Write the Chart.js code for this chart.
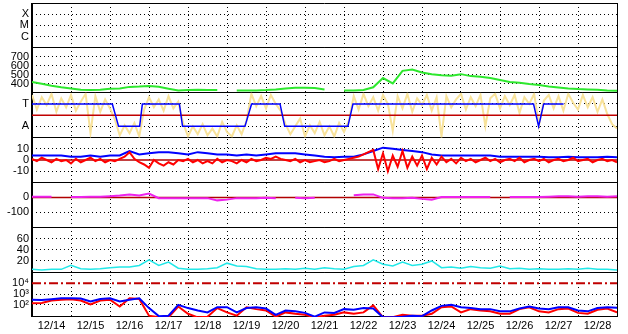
<!DOCTYPE html>
<html>
<head>
<meta charset="utf-8">
<script src="https://cdn.jsdelivr.net/npm/chart.js@4.4.1/dist/chart.umd.min.js"></script>
<style>
  html, body { margin: 0; padding: 0; background: #fff; }
  canvas { display: block; }
</style>
</head>
<body>
<canvas id="stackPlot" width="628" height="334"></canvas>
<script>
// x is in days since 12/14 00:00
const dayLabels = ['12/14', '12/15', '12/16', '12/17', '12/18', '12/19', '12/20', '12/21',
                   '12/22', '12/23', '12/24', '12/25', '12/26', '12/27', '12/28'];
const hours6 = Array.from({ length: 61 }, (_, i) => i / 4);
const hours3 = Array.from({ length: 121 }, (_, i) => i / 8);

// solar wind speed, every 6 h
const speed = [420, 400, 378, 360, 348, 332, 330, 332, 345, 346, 365, 368, 374, 366, 345, 325,
               330, 333, 330, 330, null, 325, 325, 326, 330, 337, 348, 355, 355, 352, 337, null,
               325, 325, 330, 360, 463, 403, 544, 559, 526, 507, 496, 489, 507, 485, 478, 463,
               441, 419, 411, 396, 385, 370, 359, 348, 341, 337, 333, 326, 322];

// IMF sector (T = +1, A = -1)
const sectorTimes = [0, 2.06, 2.22, 2.76, 2.83, 3.78, 3.86, 5.46, 5.63, 6.36, 6.48, 8.10, 8.23, 12.86, 12.99, 13.12, 13.63];
const sectorSide = [1, 1, -1, -1, 1, 1, -1, -1, 1, 1, -1, -1, 1, 1, -1, 1, 1];

// IMF angle, every 3 h
const imfAngle = [1.8, 0.5, 1.6, 0.9, 1.9, 0.3, 1.5, 0.7, 1.8, 0.4, 1.2, 1.9, -1.6, 1.7, 0.3, 1.4, 0.6,
                  -0.4, -1.8, -0.9, -1.6, -0.7, -1.9,
                  0.5, 1.6, 0.7, 1.4, 0.4, 1.7, 0.6, 1.2,
                  -0.7, -1.9, -1.0, -1.7, -0.8, -1.8, -1.2, -1.9, -0.6, -1.5, -1.9, -0.9, -1.7, -0.5,
                  1.9, 0.8, 1.7, 0.6, 1.8, 1.0, 0.4,
                  -0.8, -1.7, -1.0, -0.3, -1.9, -0.9, -1.6, -0.6, -1.8, -1.0, -1.9, -0.7, -1.5, -0.5,
                  1.7, 0.5, 1.9, 0.8, 1.6, 0.4, 1.8, 1.0, -1.4, 1.7, 0.6, 1.9, 0.3, 1.5, 0.9, 1.8,
                  0.4, 1.6, -1.9, 1.7, 0.7, 1.4, 1.9, 0.5, 1.6, 0.8, 1.8, -1.0, 1.5, 1.9, 0.6, 1.7,
                  0.9, 1.8, 0.2, 1.6, 1.0, 1.9, -0.9, 1.3, 1.8, 0.6, 1.7, 0.4, 1.9, 1.1, 0.5, 1.8,
                  0.7, 1.6, 0.3, 1.4, 0.1, -0.8, -1.2];

// Bt every 6 h, Bz every 3 h
const btTotal = [4, 4, 4, 4, 3, 3, 4, 3, 4, 4, 8, 5, 6, 7, 7, 6, 5, 7, 6, 5, 5, 4, 5, 4, 5, 6,
                 6, 6, 5, 4, 3, 2.5, 3, 3, 5, 8, 11, 10, 9, 8, 7, 5, 4, 4, 4, 4, 4, 4, 3, 3, 3, 3,
                 3, 2.5, 2.5, 3, 2.5, 2.5, 2.5, 3, 2.5];
const bzComp = [1, -1, 2, 0, -2, 1, -1, 0, -3, 1, -2, 0, 2, -1, 1, -2, 0,
                -1, 1, 3, 7, 1, -2, -4, -7, 0, -3, -5, -2, -4, 0, -1, 1,
                -2, 0, -3, -1, -3, 1, -2, 0, -1, -3, 0, -2, 1, -1, 0, 2, 1, 3, 1, 0, -1, 1, -2, 0,
                -2, -1, 0, -2, -1, 1, -1, 0,
                1, 2, 3, 5, 7, 9, -8, 6, -10, 4, -6, 8, -7, 3, -5, 4, -8, 2, -4, 3, -2, 1, -3, 2,
                -1, 1, -2, 0, 2, -1, 1, -2, 0, 1, -1, 2, -2, 0, 1, -1, 1, -2, 0, 1, -1, 0, 2, -1,
                0, 1, -2, 0, 1, -1, 0, -2];

// Dst-like index, every 6 h
const dstIndex = [5, 5, 5, null, 2, 2, 5, 5, 8, 12, 20, 12, 25, -6, -5, -5, -5, -5, -5, -20,
                  -15, -5, -5, -5, -3, -5, null, -3, -5, -3, null, -3, null, 15, 20, 20, -3, -5,
                  -5, -3, -10, -15, 2, 2, 2, 2, 2, 2, null, 2, 2, 2, 3, 5, 8, 8, 5, 8, 8, 5, 8];

// density, every 6 h
const densityVal = [5, 4, 5, 5, 12, 6, 5, 6, 8, 9, 9, 12, 22, 12, 18, 7, 5, 5, 6, 8, 16, 11, 10,
                    6, 5, 5, 6, 5, 7, 5, 8, 6, 5, 10, 12, 22, 14, 11, 18, 12, 14, 20, 8, 9, 7, 10,
                    8, 7, 11, 6, 7, 5, 6, 5, 5, 6, 5, 7, 5, 5, 4];

// electron flux, every 6 h
const fluxBlue = [290, 280, 330, 400, 400, 380, 200, 350, 400, 200, 300, 400, 50, 9, 10, 100, 50,
                  30, 20, 60, 60, 20, 50, 60, 45, 12, 30, 25, 18, 8, 20, 18, 40, 35, 50, 45, 7, 7,
                  8, 10, 9, 30, 80, 100, 60, 50, 40, 40, 25, 25, 45, 70, 45, 40, 60, 60, 30, 25,
                  50, 60, 55];
const fluxRed = [140, 150, 250, 300, 330, 250, 110, 250, 300, 70, 400, 350, 10, 7, 7, 70, 15, 7,
                 8, 50, 20, 10, 60, 40, 30, 8, 20, 15, 12, 7, 10, 12, 20, 15, 20, 90, 7, 7, 12, 10,
                 10, 15, 60, 70, 20, 40, 30, 25, 15, 15, 40, 60, 25, 20, 40, 45, 18, 15, 35, 45, 20];

const refTimes = [0, 15];
const zeroLine = [0, 0];
const alertLevel = [10000, 10000];

const font = { family: '"Liberation Sans", Arial, sans-serif', size: 11 };
const pts = (t, v) => v.map((y, i) => ({ x: t[i], y: y }));

function panelAxis(type, min, max, weight, tickVals, tickText, hideGrid) {
  const hide = hideGrid || [];
  const isEdge = c => c.tick && (c.tick.value === c.scale.min || c.tick.value === c.scale.max);
  return {
    type: type, min: min, max: max, weight: weight,
    position: 'left', stack: 'panels', stackWeight: 1,
    afterFit: s => { s.width = 32; s.paddingTop = 0; s.paddingBottom = 0; },
    afterBuildTicks: s => {
      s.ticks = [s.min].concat(tickVals, [s.max]).map(v => ({ value: v }));
    },
    ticks: {
      autoSkip: false, padding: 3, color: '#000', font: font,
      callback: v => { const i = tickVals.indexOf(v); return i < 0 ? '' : tickText[i]; }
    },
    grid: {
      drawTicks: false,
      color: c => {
        if (!c.tick || isEdge(c)) return '#000';
        return hide.includes(c.tick.value) ? 'rgba(0,0,0,0)' : '#000';
      }
    },
    border: {
      color: '#000', width: 1,
      dash: c => (!c.tick || isEdge(c)) ? [] : [1, 3]
    }
  };
}

const line = (data, y, color, width, extra) => Object.assign({
  data: data, yAxisID: y, xAxisID: 'x', borderColor: color, borderWidth: width,
  pointRadius: 0, fill: false, tension: 0, spanGaps: false
}, extra || {});

new Chart(document.getElementById('stackPlot'), {
  type: 'line',
  data: {
    datasets: [
      line(pts(hours6, fluxBlue), 'yFlux', '#0000ff', 2),
      line(pts(hours6, fluxRed), 'yFlux', '#ff0000', 2),
      line(pts(refTimes, alertLevel), 'yFlux', '#c00000', 2, { borderDash: [9, 3, 2, 3] }),
      line(pts(hours6, densityVal), 'yDens', '#22e8e8', 1.5),
      line(pts(hours6, dstIndex), 'yDst', '#ee22ee', 2),
      line(pts(refTimes, zeroLine), 'yDst', '#b00000', 1.5),
      line(pts(hours3, bzComp), 'yField', '#ff0000', 2),
      line(pts(hours6, btTotal), 'yField', '#0000ff', 2),
      line(pts(refTimes, zeroLine), 'yField', '#b00000', 1.5),
      line(pts(sectorTimes, sectorSide), 'ySector', '#0000ff', 1.5),
      line(pts(refTimes, zeroLine), 'ySector', '#c00000', 1.5),
      line(pts(hours3, imfAngle), 'ySector', '#f8e29a', 2),
      line(pts(hours6, speed), 'ySpeed', '#2ee82e', 2)
    ]
  },
  options: {
    responsive: false,
    animation: false,
    devicePixelRatio: 1,
    events: [],
    layout: { padding: { top: 3, right: 11, left: 0, bottom: 0 } },
    plugins: { legend: { display: false }, tooltip: { enabled: false } },
    scales: {
      x: {
        type: 'linear', position: 'bottom', min: 0, max: 15,
        afterBuildTicks: s => { s.ticks = Array.from({ length: 16 }, (_, i) => ({ value: i })); },
        afterFit: s => { s.height = 0; s.paddingLeft = 0; s.paddingRight = 0; },
        ticks: { display: false },
        grid: { drawTicks: false, color: '#000' },
        border: { display: false, dash: c => (c.tick && c.tick.value > 0 && c.tick.value < 15) ? [1, 3] : [] }
      },
      xl: {
        type: 'linear', position: 'bottom', min: 0, max: 15,
        afterBuildTicks: s => { s.ticks = dayLabels.map((_, i) => ({ value: i + 0.5 })); },
        afterFit: s => { s.height = 17; s.paddingLeft = 0; s.paddingRight = 0; },
        grid: { display: false, drawTicks: false },
        border: { display: false },
        ticks: { autoSkip: false, maxRotation: 0, padding: 2, color: '#000', font: font,
                 callback: (v, i) => dayLabels[i] }
      },
      yFlare: panelAxis('logarithmic', 1e-7, 1e-3, 7, [1e-6, 1e-5, 1e-4], ['C', 'M', 'X']),
      ySpeed: panelAxis('linear', 300, 800, 6, [400, 500, 600, 700], ['400', '500', '600', '700']),
      ySector: panelAxis('linear', -2, 2, 5, [-1, 1], ['A', 'T']),
      yField: panelAxis('linear', -20, 20, 4, [-10, 0, 10], ['-10', '0', '10'], [0]),
      yDst: panelAxis('linear', -200, 100, 3, [-100, 0], ['-100', '0'], [0]),
      yDens: panelAxis('linear', 0, 80, 2, [20, 40, 60], ['20', '40', '60']),
      yFlux: panelAxis('logarithmic', 7.5, 1.05e5, 1, [100, 1000, 10000], ['10\u00b2', '10\u00b3', '10\u2074'], [10000])
    }
  }
});
</script>
</body>
</html>
